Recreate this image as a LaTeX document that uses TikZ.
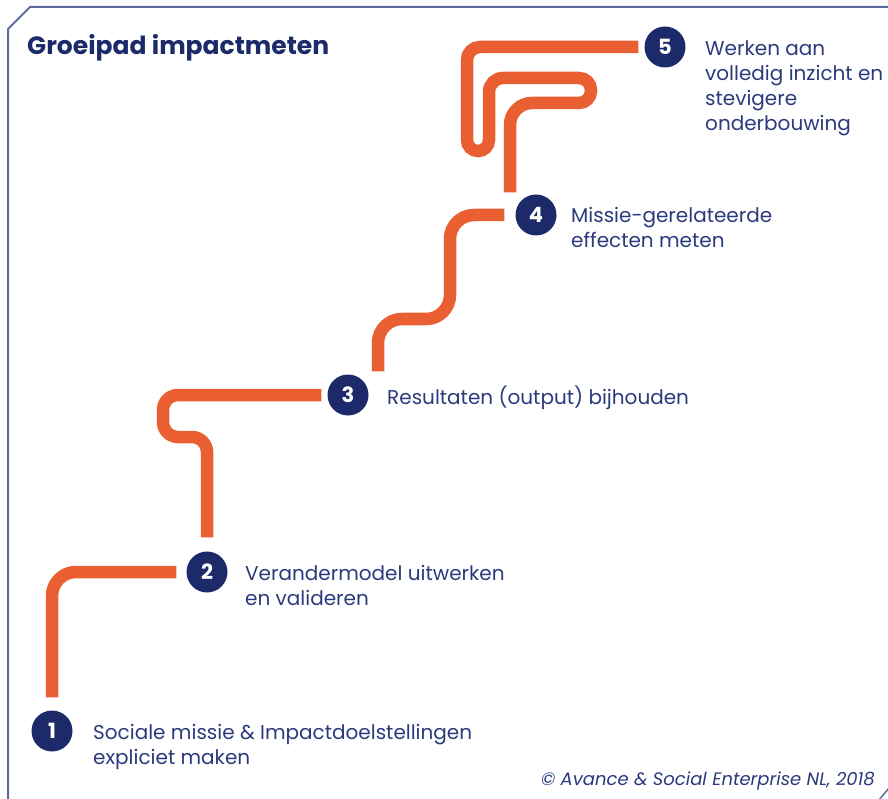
\documentclass[tikz,border=0pt]{standalone}
\usepackage{fontspec}
\setmainfont{Poppins}
\usetikzlibrary{positioning}
\definecolor{stepnavy}{HTML}{1C2A69}
\definecolor{textnavy}{HTML}{2B3A7C}
\definecolor{roadorange}{HTML}{E95F32}
\definecolor{framegray}{HTML}{5D6B9C}
\tikzset{
  stepdot/.style={circle, fill=stepnavy, text=white, minimum size=41pt,
                  inner sep=0pt, font=\bfseries\fontsize{21}{24}\selectfont},
  steptext/.style={anchor=base west, align=left, inner sep=0pt, text=textnavy,
                   font=\fontsize{20}{25}\selectfont},
  road/.style={draw=roadorange, line width=12.5pt},
}

\begin{document}
\begin{tikzpicture}[x=1pt, y=-1pt]
    \useasboundingbox (0,0) rectangle (888,799);
    % frame
    \draw[framegray, line width=2pt] (8,800) -- (8,29) -- (30,7) -- (890,7);
    \draw[framegray, line width=1.5pt] (879,800) -- (889,788);
    \node[anchor=base west, inner sep=0pt, text=stepnavy,
          font=\bfseries\fontsize{25}{28}\selectfont] (title) at (27,55) {Groeipad impactmeten};

    % steps
    \node[stepdot] (s1) at (52,731) {1};
    \node[stepdot] (s2) at (207,572) {2};
    \node[stepdot] (s3) at (348,395) {3};
    \node[stepdot] (s4) at (536,215) {4};
    \node[stepdot] (s5) at (665,47) {5};

    % base = last line
    \node[steptext] (t1) at (93,764) {Sociale missie \& Impactdoelstellingen\\expliciet maken};
    \node[steptext] (t2) at (245,605) {Verandermodel uitwerken\\en valideren};
    \node[steptext] (t3) at (387,404) {Resultaten (output) bijhouden};
    \node[steptext] (t4) at (571,248) {Missie-gerelateerde\\effecten meten};
    \node[steptext] (t5) at (705,131) {Werken aan\\volledig inzicht en\\stevigere\\onderbouwing};

    % the road
    \draw[road, rounded corners=24pt, shorten <=13pt, shorten >=10pt] (s1.north) |- (s2.west);
    \draw[road, rounded corners=15pt, shorten <=14pt, shorten >=6pt]
      (s2.north) -- (207,437) -- (163,437) |- (s3.west);
    \draw[road, rounded corners=24pt, shorten >=11pt]
      ([shift={(30,-3)}]s3.north) |- (450,319) |- (s4.west);
    \draw[road, shorten >=6pt]
      ([shift={(-26,-2)}]s4.north) [rounded corners=22pt] -- (510,103)
      [rounded corners=12pt] -- (591,103) -- (591,78)
      [rounded corners=14pt] -- (489,78)
      [rounded corners=11pt] -- (489,151) -- (467,151)
      [rounded corners=13pt] -- (467,47) -- (s5.west);

    \node[anchor=base east, inner sep=0pt, text=textnavy,
          font=\itshape\fontsize{18}{20}\selectfont] (credit) at (875,785)
          {\textcopyright{} Avance \& Social Enterprise NL, 2018};
\end{tikzpicture}
\end{document}
